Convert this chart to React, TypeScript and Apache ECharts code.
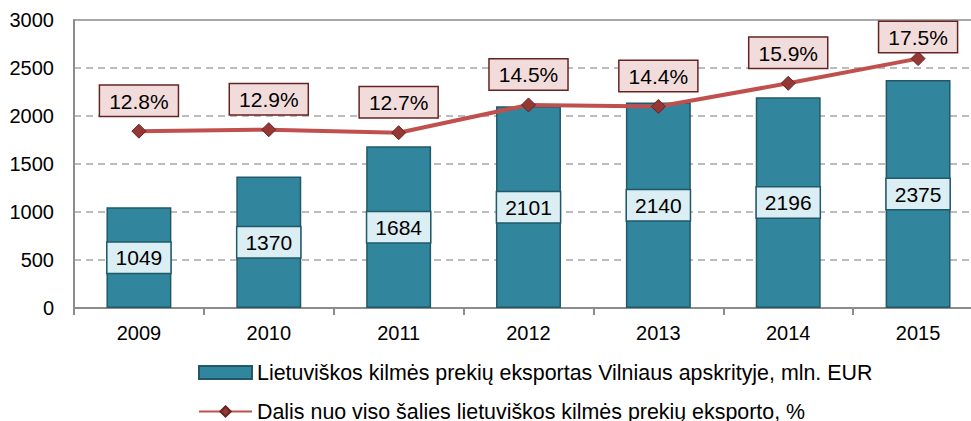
import React, { useEffect, useRef } from "react";
import * as echarts from "echarts";

const years = ["2009", "2010", "2011", "2012", "2013", "2014", "2015"];
const exportValues = [1049, 1370, 1684, 2101, 2140, 2196, 2375];
const shareValues = [12.8, 12.9, 12.7, 14.5, 14.4, 15.9, 17.5];
const barName = "Lietuviškos kilmės prekių eksportas Vilniaus apskrityje, mln. EUR";
const lineName = "Dalis nuo viso šalies lietuviškos kilmės prekių eksporto, %";

const FONT = "'Liberation Sans', Arial, sans-serif";

export default function App() {
  const ref = useRef<HTMLDivElement>(null);
  useEffect(() => {
    if (!ref.current) return;
    const chart = echarts.init(ref.current, undefined, { renderer: "svg" });
    const legendBase = {
      orient: "vertical",
      left: 198,
      padding: 0,
      itemWidth: 53,
      itemHeight: 13,
      textStyle: { fontSize: 21.4, color: "#000", fontFamily: FONT },
    };
    const lineData = shareValues.map((v, i) =>
      i === shareValues.length - 1 ? { value: v, label: { offset: [0, 9] } } : v
    );
    chart.setOption({
      animation: false,
      textStyle: { fontFamily: FONT },
      grid: {
        left: 74,
        width: 909,
        top: 20,
        height: 288,
        outerBoundsMode: "none",
        containLabel: false,
        show: true,
        borderColor: "#8C8C8C",
        borderWidth: 1.5,
        backgroundColor: "transparent",
      },
      legend: [
        { ...legendBase, top: 362, data: [{ name: barName, icon: "rect" }] },
        { ...legendBase, top: 401, data: [{ name: lineName }] },
      ],
      xAxis: {
        type: "category",
        data: years,
        axisLine: { lineStyle: { color: "#8C8C8C", width: 2 } },
        axisTick: { show: true, length: 7, lineStyle: { color: "#8C8C8C", width: 2 } },
        axisLabel: { fontSize: 20, color: "#000", margin: 15, fontFamily: FONT },
      },
      yAxis: [
        {
          type: "value",
          min: 0,
          max: 3000,
          interval: 500,
          axisLine: { show: true, lineStyle: { color: "#8C8C8C", width: 2 } },
          axisTick: { show: false },
          axisLabel: { fontSize: 20, color: "#000", margin: 20, fontFamily: FONT, formatter: (v: number) => String(v) },
          splitLine: { lineStyle: { color: "#A6A6A6", width: 1.5, type: [7, 5] } },
        },
        {
          type: "value",
          min: 1.35,
          max: 20,
          show: false,
          splitLine: { show: false },
        },
      ],
      series: [
        {
          name: barName,
          type: "bar",
          data: exportValues,
          barCategoryGap: "50%",
          itemStyle: { color: "#31859C", borderColor: "#215968", borderWidth: 1.5 },
          label: {
            show: true,
            position: "inside",
            fontSize: 21,
            color: "#000",
            fontFamily: FONT,
            backgroundColor: "#DAEEF3",
            borderColor: "#215968",
            borderWidth: 1.5,
            padding: [5, 8, 4, 8],
          },
        },
        {
          name: lineName,
          type: "line",
          yAxisIndex: 1,
          data: lineData,
          symbol: "diamond",
          symbolSize: 14,
          lineStyle: { color: "#C0504D", width: 4 },
          itemStyle: { color: "#953735", borderColor: "#632523", borderWidth: 1 },
          label: {
            show: true,
            position: "top",
            distance: 8,
            fontSize: 21,
            color: "#000",
            fontFamily: FONT,
            formatter: (p: any) => Number(p.value).toFixed(1) + "%",
            backgroundColor: "#F2DCDB",
            borderColor: "#632523",
            borderWidth: 1.5,
            padding: [5, 9, 4, 9],
          },
        },
      ],
    });
    return () => chart.dispose();
  }, []);
  return <div ref={ref} style={{ width: 971, height: 421, position: "absolute", left: 0, top: 0 }} />;
}
